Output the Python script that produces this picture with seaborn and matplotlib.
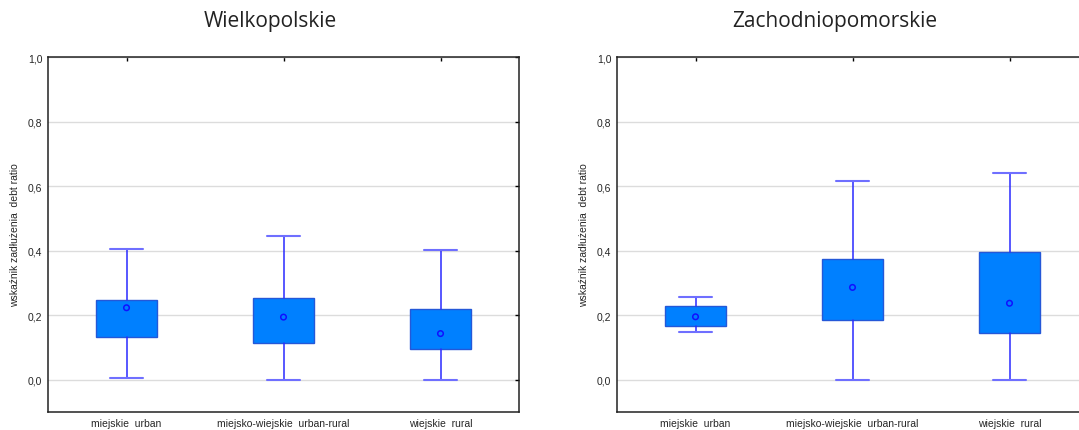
import numpy as np
import matplotlib
matplotlib.use("Agg")
import matplotlib.pyplot as plt
import seaborn as sns
from matplotlib.ticker import FuncFormatter

# categories and box statistics
categories = ["miejskie  urban", "miejsko-wiejskie  urban-rural", "wiejskie  rural"]

# Wielkopolskie
wlkp_mean = [0.223, 0.194, 0.143]
wlkp_q1 = [0.132, 0.113, 0.095]
wlkp_q3 = [0.248, 0.254, 0.220]
wlkp_low = [0.005, 0.0, 0.0]
wlkp_high = [0.406, 0.445, 0.402]

# Zachodniopomorskie
zach_mean = [0.195, 0.286, 0.237]
zach_q1 = [0.168, 0.185, 0.146]
zach_q3 = [0.227, 0.374, 0.396]
zach_low = [0.149, 0.0, 0.0]
zach_high = [0.257, 0.616, 0.640]

titles = ["Wielkopolskie", "Zachodniopomorskie"]
ylabel = "wskaźnik zadłużenia  debt ratio"

sns.set_style("white")
plt.rcParams["font.family"] = ["Liberation Sans", "DejaVu Sans"]

fig = plt.figure(figsize=(10.79, 4.31), dpi=100)
ax1 = fig.add_axes([48 / 1079, 18 / 431, 471 / 1079, 355 / 431])
ax2 = fig.add_axes([617 / 1079, 18 / 431, 471 / 1079, 355 / 431])

panels = [
    (ax1, wlkp_mean, wlkp_q1, wlkp_q3, wlkp_low, wlkp_high),
    (ax2, zach_mean, zach_q1, zach_q3, zach_low, zach_high),
]

pos = np.arange(len(categories))

for ax, mean, q1, q3, low, high in panels:
    ax.yaxis.grid(True, color="#dcdcdc", lw=1.0, zorder=0)
    ax.set_axisbelow(True)

    stats = []
    for i in range(len(categories)):
        stats.append({
            "label": categories[i],
            "mean": mean[i],
            "med": mean[i],
            "q1": q1[i],
            "q3": q3[i],
            "whislo": low[i],
            "whishi": high[i],
            "fliers": [],
        })
    ax.bxp(stats, positions=pos, widths=0.39, patch_artist=True,
           showfliers=False, showmeans=False, manage_ticks=False,
           boxprops=dict(facecolor="#0080ff", edgecolor="#2458d8", lw=1.0),
           whiskerprops=dict(color="#2a2aff", lw=1.1),
           capprops=dict(color="#6f6fff", lw=1.5),
           medianprops=dict(visible=False),
           capwidths=0.21, zorder=3)

    sns.scatterplot(x=pos, y=mean, ax=ax, marker="o", s=16,
                    facecolor="none", edgecolor="#1010ff", linewidth=1.1,
                    zorder=4)

    ax.set_xlim(-0.5, 2.5)
    ax.set_ylim(-0.1, 1.0)
    ax.set_yticks(np.arange(0, 1.01, 0.2))
    ax.yaxis.set_major_formatter(FuncFormatter(lambda v, p: f"{v:.1f}".replace(".", ",")))
    ax.set_xticks(pos)
    ax.set_xticklabels(categories)
    ax.tick_params(direction="in", top=True, right=True, length=3,
                   width=1.0, labelsize=7.5, pad=4, color="black")
    for sp in ax.spines.values():
        sp.set_color("#222222")
        sp.set_linewidth(1.1)
    ax.set_ylabel(ylabel, fontsize=7.5, labelpad=6)
    ax.set_xlabel("")

fig.text(270 / 1079, 1 - 22 / 431, titles[0], ha="center", va="center",
         fontsize=15, family=["Open Sans", "DejaVu Sans"], color="#222222")
fig.text(835 / 1079, 1 - 22 / 431, titles[1], ha="center", va="center",
         fontsize=15, family=["Open Sans", "DejaVu Sans"], color="#222222")

fig.savefig("out.png", dpi=100)
